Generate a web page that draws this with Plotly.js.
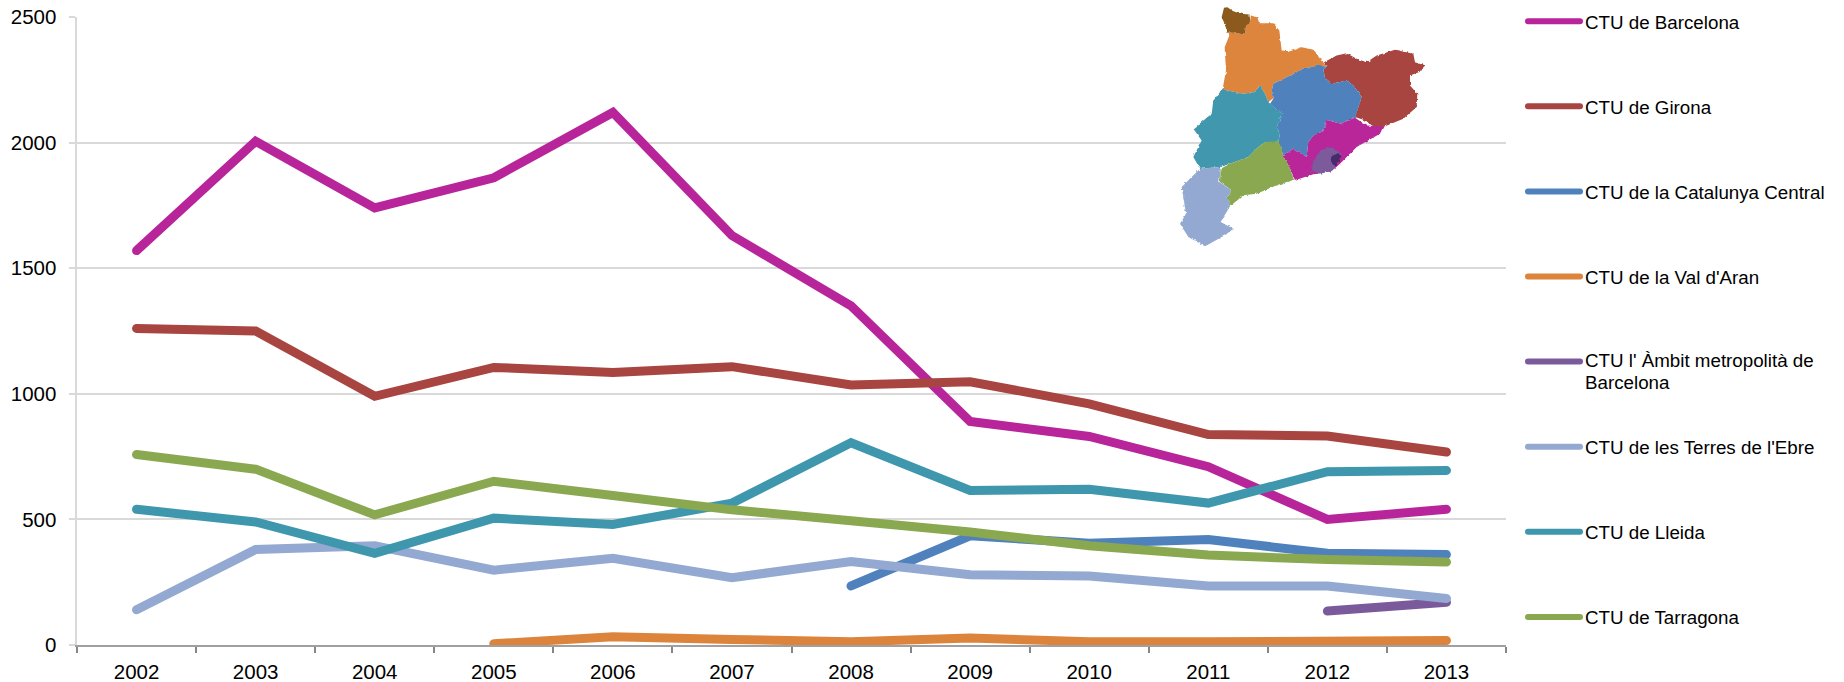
<!DOCTYPE html>
<html>
<head>
<meta charset="utf-8">
<script src="https://cdn.plot.ly/plotly-3.0.1.min.js"></script>
<style>
html,body{margin:0;padding:0;background:#fff}
#chart{width:1844px;height:682px}
.js-line{stroke-linecap:round !important}
.legendlines path{stroke-width:6px !important}
</style>
</head>
<body>
<div id="chart"></div>
<script>
const years = ['2002','2003','2004','2005','2006','2007','2008','2009','2010','2011','2012','2013'];
const barcelona = [1570,2005,1740,1860,2120,1630,1350,890,830,710,500,540];
const girona = [1260,1250,990,1105,1085,1108,1035,1048,960,838,832,768];
const central = [null,null,null,null,null,null,235,435,405,420,365,360];
const valAran = [null,null,null,5,33,22,13,28,13,13,13,18];
const ambit = [null,null,null,null,null,null,null,null,null,null,135,170];
const terres = [140,380,395,298,345,268,332,280,275,235,235,185];
const lleida = [540,490,365,505,480,565,805,615,620,565,690,695];
const tarragona = [758,700,518,652,595,538,495,450,395,358,340,330];

const seriesNames = ['CTU de Barcelona','CTU de Girona','CTU de la Catalunya Central',"CTU de la Val d'Aran","CTU l' Àmbit metropolità de<br>Barcelona","CTU de les Terres de l'Ebre",'CTU de Lleida','CTU de Tarragona'];
const seriesValues = [barcelona,girona,central,valAran,ambit,terres,lleida,tarragona];
const seriesColors = ['#B8259A','#A84541','#4F81BD','#DD843C','#7B5A9C','#93A9D1','#3F97AE','#8AA84F'];

const W=1844,H=682,L=77,R=338,T=16.5,B=37;
const mapRegions = [
 ['#DD843C','302,45 322,50 328,68 370,68 388,90 395,150 420,152 455,140 490,148 510,170 522,188 530,198 500,195 460,205 420,225 370,250 365,272 372,292 355,305 345,280 330,255 315,275 280,280 240,272 218,265 228,210 224,140 238,105 232,95 262,98 285,103 288,78 302,62'],
 ['#8B5A1B','222,22 232,20 250,32 272,40 298,42 302,62 288,78 285,103 262,98 232,95 224,70 215,50'],
 ['#A84541','522,185 560,165 590,158 620,175 650,185 680,165 735,148 790,160 795,185 825,195 808,215 780,225 780,255 802,280 800,320 760,355 700,380 690,390 640,358 615,350 635,290 610,255 590,240 545,250 525,232 520,208 530,198'],
 ['#4F81BD','530,198 520,208 525,232 545,250 590,240 610,255 635,290 615,352 570,370 530,358 520,392 490,405 475,425 470,470 430,445 400,465 385,425 390,400 380,380 395,340 360,310 372,292 365,272 370,250 420,225 460,205 500,195'],
 ['#B8259A','475,425 490,405 520,392 530,358 570,370 615,352 650,375 700,378 690,400 620,440 570,490 545,512 490,522 435,540 420,505 400,465 430,445 470,470'],
 ['#7B5A9C','490,480 510,450 540,440 575,460 560,490 545,512 510,520 485,510'],
 ['#4A2A6A','540,470 565,458 575,465 558,500 545,485'],
 ['#3F97AE','218,265 240,272 280,280 315,275 330,255 345,280 355,305 395,340 380,380 390,400 385,425 345,425 325,440 295,470 240,490 210,500 150,505 130,470 155,420 130,385 185,340 190,300'],
 ['#8AA84F','345,425 385,422 400,465 420,505 432,538 380,555 320,580 280,585 240,618 232,590 245,570 210,545 212,505 240,490 295,470 325,440'],
 ['#93A9D1','150,505 210,500 212,505 208,545 245,570 232,590 240,618 212,665 250,685 225,705 165,738 115,710 90,670 108,640 95,560 125,530']
];
const svg = '<svg xmlns="http://www.w3.org/2000/svg" width="900" height="780" viewBox="0 0 900 780">'+
 '<filter id="r" x="-5%" y="-5%" width="110%" height="110%"><feTurbulence type="fractalNoise" baseFrequency="0.09" numOctaves="2" seed="4"/><feDisplacementMap in="SourceGraphic" scale="9" xChannelSelector="R" yChannelSelector="G"/></filter>'+
 '<g filter="url(#r)">'+mapRegions.map(r=>'<polygon fill="'+r[0]+'" points="'+r[1]+'"/>').join('')+'</g></svg>';
const mapSrc = 'data:image/svg+xml;charset=utf-8,'+encodeURIComponent(svg);

const pw=W-L-R, ph=H-T-B;
const traces = seriesNames.map((n,i)=>({
  type:'scatter',mode:'lines',name:n,x:years,y:seriesValues[i],
  legendgroup:'g'+i,cliponaxis:false,hoverinfo:'x+y+name',
  line:{color:seriesColors[i],width:9,shape:'linear'},connectgaps:false
}));
const font='"Liberation Sans", Arial, sans-serif';
const legendStep = 85.1, legendFirstKeyY = 20.7, legendTop = 3, legendFontSize = 18.75, legendLineGap = 22;
Plotly.newPlot('chart',traces,{
  width:W,height:H,margin:{l:L,r:R,t:T,b:B,pad:0,autoexpand:false},
  paper_bgcolor:'#fff',plot_bgcolor:'#fff',
  font:{family:font,color:'#000'},
  xaxis:{type:'category',range:[-0.5,11.5],tickson:'boundaries',ticks:'outside',ticklen:6,tickcolor:'#868686',tickwidth:1.5,
    linecolor:'#A0A0A0',linewidth:2,showgrid:false,tickfont:{size:20.5,family:font,color:'#000'},zeroline:false,automargin:false,ticklabelstandoff:7},
  yaxis:{range:[0,2500],tick0:0,dtick:500,ticks:'outside',ticklen:6.5,tickcolor:'#D9D9D9',tickwidth:2,
    linecolor:'#D9D9D9',linewidth:2,gridcolor:'#D9D9D9',gridwidth:2,zeroline:false,
    tickfont:{size:20.5,family:font,color:'#000'},automargin:false,ticklabelstandoff:8},
  legend:{x:(1523-L)/pw,xanchor:'left',y:1-(legendTop-T)/ph,yanchor:'top',traceorder:'grouped',tracegroupgap:56,itemwidth:52,maxheight:682,
    font:{size:legendFontSize,family:font,color:'#000'},bgcolor:'rgba(0,0,0,0)',borderwidth:0},
  images:[{source:mapSrc,xref:'paper',yref:'paper',x:(1150-L)/pw,y:1-(0-T)/ph,sizex:300/pw,sizey:260/ph,xanchor:'left',yanchor:'top',sizing:'stretch',layer:'above'}],
  showlegend:true
},{displayModeBar:false}).then(gd=>{
  gd.querySelectorAll('.legend .groups').forEach(g=>g.setAttribute('transform','translate(0,0)'));
  gd.querySelectorAll('.legend .traces').forEach((t,i)=>{
    const y = legendFirstKeyY - legendTop + i*legendStep;
    t.setAttribute('transform','translate(0,'+y+')');
    const lines = t.querySelectorAll('text.legendtext tspan.line');
    if(lines.length>1){
      lines.forEach((s,k)=>{s.removeAttribute('dy');s.setAttribute('y',legendFontSize*0.3+k*legendLineGap);});
    }
  });
});
</script>
</body>
</html>
